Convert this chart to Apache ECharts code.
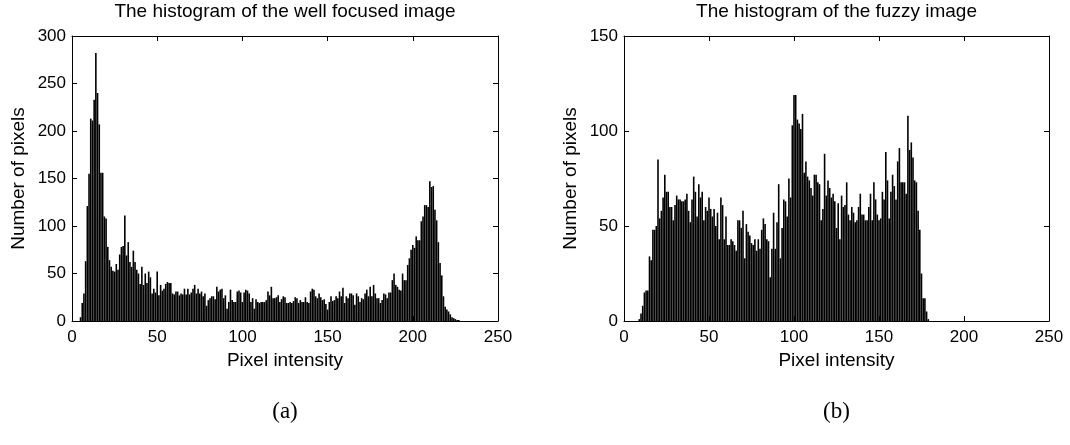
<!DOCTYPE html>
<html>
<head>
<meta charset="utf-8">
<script src="https://cdn.jsdelivr.net/npm/echarts@6/dist/echarts.min.js"></script>
<style>
html,body{margin:0;padding:0;background:#fff;}
#c{width:1070px;height:445px;}
</style>
</head>
<body>
<div id="c"></div>
<script>
// Histogram of the well focused image: counts for pixel intensity 0..255
const focusedCounts = [
0,0,0,0,0,4,19,29,63,121,155,213,211,233,282,240,207,156,156,110,
108,78,64,57,53,52,60,54,70,78,79,111,69,83,62,57,74,62,54,50,
39,57,38,50,40,52,46,29,34,30,52,27,38,32,34,39,41,40,40,29,
28,31,31,27,29,28,34,28,34,28,30,34,38,29,34,29,31,26,29,16,
22,24,26,26,23,36,31,33,34,24,27,13,20,33,22,20,20,31,32,30,
20,30,33,32,29,20,24,13,23,20,19,20,20,20,22,31,27,36,24,24,
25,27,20,23,26,25,19,19,20,19,21,25,24,19,22,20,20,25,20,19,
31,34,33,26,24,29,25,22,23,18,12,20,26,21,22,26,24,31,26,35,
19,26,24,29,29,27,17,29,26,20,24,23,29,33,26,36,26,38,29,24,
24,19,22,29,28,24,30,30,43,50,38,36,33,32,50,43,43,59,66,75,
80,77,89,85,85,105,110,122,122,120,147,141,142,117,106,83,61,48,26,15,
12,10,7,4,3,2,1,1,0,0,0,0,0,0,0,0,0,0,0,0,
0,0,0,0,0,0,0,0,0,0,0,0,0,0,0,0
];
// Histogram of the fuzzy image: counts for pixel intensity 0..255
const fuzzyCounts = [
0,0,0,0,0,0,0,0,0,1,4,8,15,16,16,34,32,48,48,50,
85,54,58,65,77,68,68,60,60,53,61,66,64,64,63,63,64,67,58,52,
64,76,68,55,72,65,68,53,60,58,65,59,55,59,50,57,43,65,61,43,
55,40,40,43,42,40,37,53,53,49,58,33,51,47,45,41,40,43,37,43,
38,48,54,51,43,42,23,38,57,38,52,72,33,49,64,63,55,75,65,103,
119,119,106,104,101,109,78,84,76,74,70,66,77,77,73,72,53,59,88,66,
74,70,65,67,63,49,62,43,66,60,61,73,56,53,60,57,52,53,60,67,
56,56,53,53,60,67,53,73,64,56,53,54,68,64,89,74,54,68,77,71,
64,84,91,73,73,73,67,108,90,94,86,74,73,58,48,25,12,12,5,1,
0,0,0,0,0,0,0,0,0,0,0,0,0,0,0,0,0,0,0,0,
0,0,0,0,0,0,0,0,0,0,0,0,0,0,0,0,0,0,0,0,
0,0,0,0,0,0,0,0,0,0,0,0,0,0,0,0,0,0,0,0,
0,0,0,0,0,0,0,0,0,0,0,0,0,0,0,0
];
const titles = ['The histogram of the well focused image', 'The histogram of the fuzzy image'];
const panelLabels = ['(a)', '(b)'];
const xName = 'Pixel intensity';
const yName = 'Number of pixels';
const xTicks = [0, 50, 100, 150, 200, 250];
const yMaxes = [300, 150];

const FONT = 'Liberation Sans, Arial, Helvetica, sans-serif';
const FS = 17;   // tick labels
const FL = 19;   // titles and axis names
const grids = [
  {left: 72, top: 36, width: 426, height: 285},
  {left: 624, top: 36, width: 425, height: 285}
];

function toPairs(arr){ return arr.map((v,i)=>[i,v]); }

const xAxes = [], yAxes = [], series = [];
grids.forEach((g, k) => {
  const common = {
    gridIndex: k, type: 'value', min: xTicks[0], max: xTicks[xTicks.length-1], interval: 50,
    axisLine: {show: true, onZero: false, lineStyle: {color: '#000', width: 1}},
    axisTick: {show: true, inside: true, length: 5, lineStyle: {color: '#000'}},
    splitLine: {show: false}
  };
  xAxes.push(Object.assign({}, common, {
    position: 'bottom',
    axisLabel: {show: true, color: '#000', fontSize: FS, fontFamily: FONT, margin: 8},
    name: xName, nameLocation: 'middle', nameGap: 22,
    nameTextStyle: {color: '#000', fontSize: FL, fontFamily: FONT}
  }));
  xAxes.push(Object.assign({}, common, {position: 'top', axisLabel: {show: false}}));
  const ycommon = {
    gridIndex: k, type: 'value', min: 0, max: yMaxes[k], interval: 50,
    axisLine: {show: true, onZero: false, lineStyle: {color: '#000', width: 1}},
    axisTick: {show: true, inside: true, length: 5, lineStyle: {color: '#000'}},
    splitLine: {show: false}
  };
  yAxes.push(Object.assign({}, ycommon, {
    position: 'left',
    axisLabel: {show: true, color: '#000', fontSize: FS, fontFamily: FONT, margin: 6},
    name: yName, nameLocation: 'middle', nameGap: 44, nameRotate: 90,
    nameTextStyle: {color: '#000', fontSize: FL, fontFamily: FONT}
  }));
  yAxes.push(Object.assign({}, ycommon, {position: 'right', axisLabel: {show: false}}));
  series.push({
    type: 'bar', xAxisIndex: k*2, yAxisIndex: k*2,
    data: toPairs(k === 0 ? focusedCounts : fuzzyCounts),
    barWidth: 1.6, itemStyle: {color: '#000'}, silent: true
  });
});

const graphics = [];
grids.forEach((g, k) => {
  const cx = g.left + g.width/2;
  graphics.push({type: 'text', x: cx, y: 12, style: {text: titles[k], fill: '#000', font: FL + 'px ' + FONT, align: 'center', verticalAlign: 'middle', textAlign: 'center', textVerticalAlign: 'middle'}});
  graphics.push({type: 'text', x: cx, y: 412, style: {text: panelLabels[k], fill: '#000', font: '23px "Liberation Serif", "Times New Roman", serif', align: 'center', verticalAlign: 'middle', textAlign: 'center', textVerticalAlign: 'middle'}});
});

const chart = echarts.init(document.getElementById('c'), null, {renderer: 'canvas'});
chart.setOption({
  animation: false,
  backgroundColor: '#fff',
  grid: grids,
  xAxis: xAxes,
  yAxis: yAxes,
  series: series,
  graphic: graphics
});
</script>
</body>
</html>
